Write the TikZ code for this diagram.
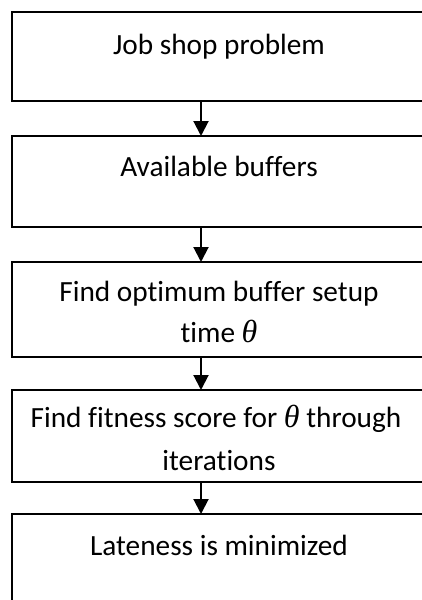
\documentclass[tikz,border=0pt]{standalone}
\usepackage{fontspec}
\setmainfont{Carlito}[RawFeature={-liga;-clig}]
\newfontfamily\thetafont{Liberation Serif}
\newcommand{\mytheta}{{\thetafont\itshape\fontsize{32}{40}\selectfont θ}}
\usetikzlibrary{arrows.meta}
\begin{document}
\begin{tikzpicture}[x=1pt,y=-1pt,
  box/.style={draw=black, line width=2pt, rectangle, minimum width=414pt, inner sep=0pt, outer sep=0pt},
  lbl/.style={anchor=base, inner sep=0pt, font=\fontsize{29.3}{40}\selectfont},
  arr/.style={line width=2pt, -{Triangle[width=15pt,length=15pt]}}]
\useasboundingbox (0,0) rectangle (421,600);
\node[box, minimum height=89pt] (b1) at (219,56.5) {};
\node[box, minimum height=91pt] (b2) at (219,181.5) {};
\node[box, minimum height=95pt] (b3) at (219,309.5) {};
\node[box, minimum height=92pt] (b4) at (219,436) {};
\node[box, minimum height=106pt] (b5) at (219,567) {};
\node[lbl] (t1) at (219,54) {Job shop problem};
\node[lbl] (t2) at (219,176) {Available buffers};
\node[lbl] (t3a) at (219,301) {Find optimum buffer setup};
\node[lbl] (t3b) at (219,342) {time \mytheta};
\node[lbl] (t4a) at (216,427) {Find fitness score for \mytheta\ through};
\node[lbl] (t4b) at (219,470) {iterations};
\node[lbl] (t5) at (219,555) {Lateness is minimized};
\coordinate (ax) at (201,0);
\draw[arr] (b1.south -| ax) -- (b2.north -| ax);
\draw[arr] (b2.south -| ax) -- (b3.north -| ax);
\draw[arr] (b3.south -| ax) -- (b4.north -| ax);
\draw[arr] (b4.south -| ax) -- (b5.north -| ax);
\end{tikzpicture}
\end{document}
